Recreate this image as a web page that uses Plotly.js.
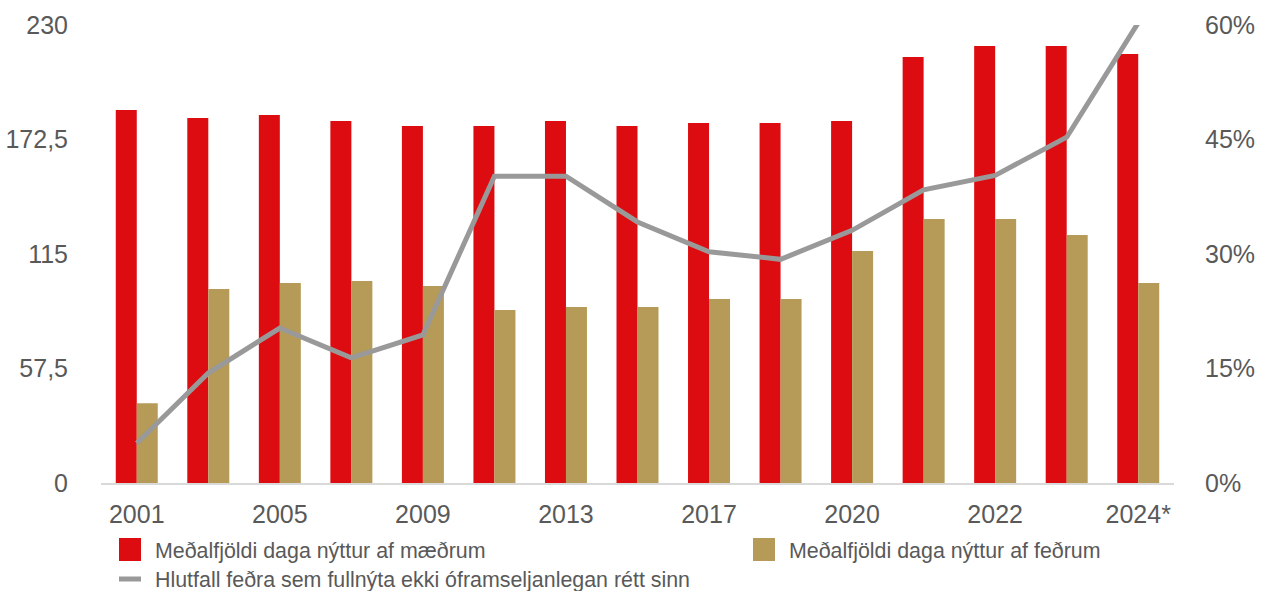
<!DOCTYPE html>
<html>
<head>
<meta charset="utf-8">
<script src="https://cdn.plot.ly/plotly-3.0.1.min.js"></script>
<style>
  html, body { margin: 0; padding: 0; background: #fff; }
  #chart { width: 1266px; height: 591px; }
</style>
</head>
<body>
<div id="chart"></div>
<script>
// ---- Data ----
const categories = ['2001','2003','2005','2007','2009','2011','2013','2015','2017','2019','2020','2021','2022','2023','2024*'];
const xTickLabels = ['2001','2005','2009','2013','2017','2020','2022','2024*'];
const mothersDays = [187.3, 183.3, 184.8, 181.8, 179.3, 179.3, 181.8, 179.3, 180.8, 180.8, 181.8, 213.9, 219.5, 219.5, 215.4];
const fathersDays = [40.0, 97.4, 100.4, 101.4, 98.9, 86.9, 88.4, 88.4, 92.4, 92.4, 116.5, 132.6, 132.6, 124.5, 100.4];
const fathersShare = [0.052, 0.144, 0.203, 0.164, 0.194, 0.402, 0.402, 0.342, 0.303, 0.293, 0.331, 0.384, 0.403, 0.453, 0.603];
const leftTicks = [0, 57.5, 115, 172.5, 230];
const rightTicks = [0, 0.15, 0.30, 0.45, 0.60];
const seriesNames = [
  'Meðalfjöldi daga nýttur af mæðrum',
  'Meðalfjöldi daga nýttur af feðrum',
  'Hlutfall feðra sem fullnýta ekki óframseljanlegan rétt sinn'
];

// ---- Style ----
const RED = '#dc0c10';
const GOLD = '#b59b57';
const GREY = '#999999';
const TXT = '#595959';
const FONT = 'Liberation Sans, Arial, sans-serif';

const W = 1266, H = 591;
const M = {l: 101, r: 92, t: 25, b: 108};
const pw = W - M.l - M.r, ph = H - M.t - M.b;
const px = x => (x - M.l) / pw;
const py = y => (H - M.b - y) / ph;

const traces = [
  {type: 'bar', x: categories, y: mothersDays, name: seriesNames[0],
   marker: {color: RED}, showlegend: false, hoverinfo: 'x+y'},
  {type: 'bar', x: categories, y: fathersDays, name: seriesNames[1],
   marker: {color: GOLD}, showlegend: false, hoverinfo: 'x+y'},
  {type: 'scatter', mode: 'lines', x: categories, y: fathersShare, name: seriesNames[2],
   yaxis: 'y2', line: {color: GREY, width: 5}, cliponaxis: false, showlegend: false}
];

// manual legend
const shapes = [
  {type: 'rect', xref: 'paper', yref: 'paper', x0: px(119), x1: px(141), y0: py(538), y1: py(561),
   fillcolor: RED, line: {width: 0}},
  {type: 'rect', xref: 'paper', yref: 'paper', x0: px(753), x1: px(775), y0: py(538), y1: py(561),
   fillcolor: GOLD, line: {width: 0}},
  {type: 'line', xref: 'paper', yref: 'paper', x0: px(119), x1: px(141), y0: py(579), y1: py(579),
   line: {color: GREY, width: 5}}
];
const annotations = [
  {text: seriesNames[0], x: px(153), y: py(551), xanchor: 'left', yanchor: 'middle'},
  {text: seriesNames[1], x: px(787), y: py(551), xanchor: 'left', yanchor: 'middle'},
  {text: seriesNames[2], x: px(153), y: py(580), xanchor: 'left', yanchor: 'middle'}
].map(a => Object.assign({xref: 'paper', yref: 'paper', showarrow: false,
  font: {family: FONT, size: 21.4, color: TXT}}, a));

const layout = {
  width: W, height: H,
  margin: M,
  paper_bgcolor: '#fff', plot_bgcolor: '#fff',
  separators: ', ',
  barmode: 'group', bargap: 0.413, bargroupgap: 0,
  font: {family: FONT, color: TXT},
  xaxis: {
    type: 'category', range: [-0.5, 14.5],
    tickmode: 'array', tickvals: xTickLabels, ticktext: xTickLabels,
    showline: true, linecolor: '#d9d9d9', linewidth: 2,
    showgrid: false, zeroline: false, ticks: '',
    tickfont: {family: FONT, size: 25, color: TXT},
    ticklabelstandoff: 8
  },
  yaxis: {
    range: [0, 230], tickmode: 'array', tickvals: leftTicks,
    showgrid: false, zeroline: false, showline: false, ticks: '',
    tickfont: {family: FONT, size: 25, color: TXT},
    ticklabelstandoff: 32
  },
  yaxis2: {
    overlaying: 'y', side: 'right',
    range: [0, 0.6], tickmode: 'array', tickvals: rightTicks, tickformat: '.0%',
    showgrid: false, zeroline: false, showline: false, ticks: '',
    tickfont: {family: FONT, size: 25, color: TXT},
    ticklabelstandoff: 30
  },
  shapes: shapes,
  annotations: annotations
};

Plotly.newPlot('chart', traces, layout, {displayModeBar: false, staticPlot: true});
</script>
</body>
</html>
